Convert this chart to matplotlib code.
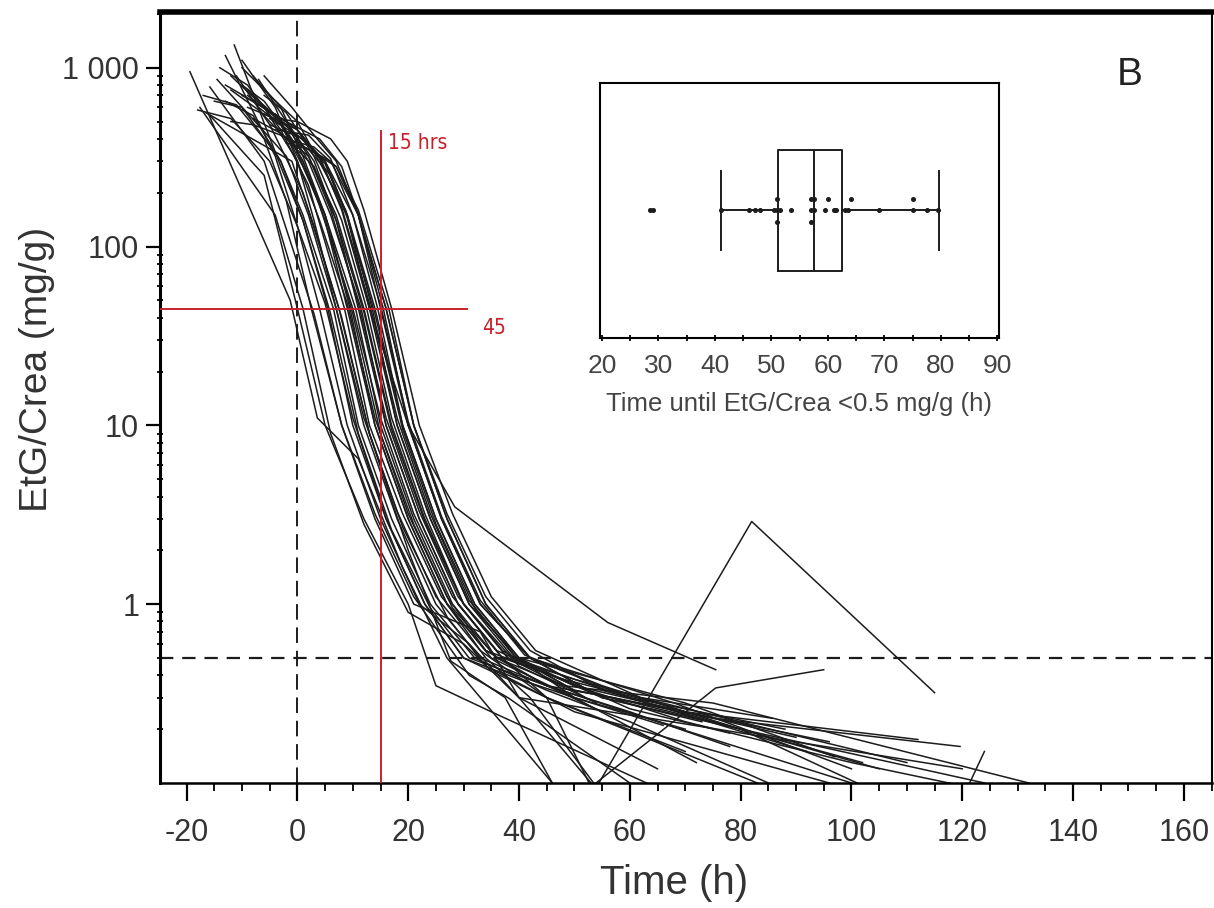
import matplotlib.pyplot as plt
from matplotlib.ticker import MultipleLocator, LogLocator, NullFormatter

plt.rcParams['font.family'] = ['Liberation Sans', 'DejaVu Sans']
plt.rcParams['axes.unicode_minus'] = False

# EtG/Crea (mg/g) over time (h), one list per subject
curve_times = [
    [-19.4, -1.3, 3.6, 11, 19, 27, 46],
    [-17.6, -4, 1, 6, 12, 20, 30, 40, 53],
    [-15.8, -6, 3, 8, 14, 21, 31, 38, 60],
    [-13, -4, 0, 5, 10, 16, 23, 30, 45, 83],
    [-11.4, -3, 1, 6, 11, 17, 24, 31, 45, 60, 78],
    [-14.5, -2, 2, 7, 12, 18, 25, 33, 45, 70],
    [-16.5, -1, 3, 8, 13, 19, 27, 34, 50, 96],
    [-12, -6, 0, 4, 9, 14, 20, 27, 34, 45, 65, 100],
    [-10, -4, 1, 5, 10, 15, 21, 28, 36, 50, 70, 112],
    [-7, -2, 2, 6, 11, 16, 22, 29, 37, 50, 75, 119.6],
    [-9, -4, 0, 8.7, 13, 20, 28.4, 56, 75.5],
    [-8, -2, 3, 7, 12, 17, 23, 30, 38, 50, 62, 85.7],
    [-6, 0, 4, 8, 13, 18, 24, 31, 39, 50, 72],
    [-5, 1, 5, 9, 14, 19, 25, 32, 40, 55, 80, 101],
    [-4, 2, 6, 10, 15, 20, 26, 33, 41, 55, 70, 96],
    [-13, -8, -2, 4, 8, 11, 16, 21, 27, 34, 42, 55],
    [-10, -5, 0, 6, 9, 12, 17, 22, 28, 35, 43, 62, 110],
    [-8, -3, 1, 5, 10.5, 15, 21, 28, 36, 45, 55],
    [-6, -2, 3, 8, 12.5, 17, 23, 30, 38, 48, 75, 132],
    [-9, -3, 1, 5, 9.5, 14, 20, 27, 34, 42, 54, 82, 115],
    [-7, -2, 2, 6, 11.5, 16, 22, 29, 37, 45, 53, 75.5, 95],
    [-5, 1, 5, 10, 14.5, 19, 25, 32, 40, 50, 70, 100, 121, 124],
    [-18, -12, -5, 0, 4, 9, 15, 22, 31, 40, 65],
    [-15, -10, -3, 1, 6.5, 11, 17, 24, 32, 45, 60, 85],
    [-12, -8, -3, 2, 7, 11, 16.5, 21, 27, 34, 42, 55, 80, 124],
    [-3, 2, 6, 9, 13.5, 18, 24, 31, 40, 70, 97],
    [-2, 3, 7, 11, 15.5, 20, 26, 33, 42, 68, 100],
    [-14, -9, -3, 2, 8.5, 13, 19, 26, 34, 48, 65, 80, 105],
    [-10, -6, -1, 4, 10, 15, 21, 28, 36, 50, 70, 90],
    [-8, -3, 2, 7, 12, 17, 23, 30, 40, 54],
    [-17, -11, -6, -2, 2.5, 8, 14, 21, 33, 40, 60, 120],
    [-16, -6, 0, 5, 12, 20, 25, 35, 63],
    [-11, -5, 1, 7.5, 13, 20, 27.7, 37.5, 46],
    [-9, -5, 0, 5, 9, 14, 19, 25, 32, 40, 52],
    [-7, -3, 1, 5, 9, 14, 20, 27, 35, 50, 70],
    [-12, -7, -2, 3, 7, 11, 16, 22, 29, 37, 48, 60, 78],
    [-4, 0, 4, 8, 13, 18, 24, 31, 39, 50, 60, 92],
    [-13, -8, -3, 1, 5.5, 10, 16, 23, 30, 40, 50, 66],
    [-6, -1, 3, 7, 11, 15, 20, 26, 33, 42, 60, 88],
    [-10, -4, 0, 3, 7, 12, 18, 25, 33, 45, 57, 80, 102],
    [-2, 2, 6, 11, 16, 21, 27, 34, 42, 55, 73],
]
curve_values = [
    [950, 50, 11, 6.5, 1.6, 0.5, 0.1],
    [600, 150, 45, 9, 2.8, 0.9, 0.6, 0.3, 0.1],
    [780, 300, 42, 10, 3.2, 1.1, 0.4, 0.3, 0.1],
    [1170, 320, 130, 48, 11, 3, 1, 0.5, 0.3, 0.1],
    [1340, 280, 140, 42, 9, 2.6, 0.95, 0.5, 0.35, 0.25, 0.16],
    [860, 320, 150, 45, 11, 3.3, 1.1, 0.55, 0.3, 0.15],
    [560, 300, 130, 40, 9, 2.7, 0.85, 0.45, 0.25, 0.1],
    [900, 600, 300, 140, 48, 11, 3.2, 1.1, 0.55, 0.35, 0.22, 0.1],
    [700, 550, 280, 150, 42, 9, 2.8, 0.95, 0.5, 0.33, 0.25, 0.175],
    [860, 500, 320, 160, 48, 11, 3.3, 1.1, 0.55, 0.33, 0.23, 0.16],
    [600, 520, 500, 160, 45, 10, 3.5, 0.79, 0.43],
    [650, 500, 300, 140, 43, 9.5, 2.9, 1, 0.5, 0.38, 0.3, 0.23],
    [550, 450, 310, 165, 48, 11, 3.2, 1.05, 0.52, 0.3, 0.13],
    [480, 400, 290, 145, 42, 9.5, 2.8, 0.95, 0.48, 0.3, 0.2, 0.1],
    [450, 420, 310, 150, 47, 10.5, 3.1, 1.05, 0.52, 0.35, 0.25, 0.17],
    [800, 650, 500, 400, 280, 150, 45, 10, 3, 1, 0.5, 0.3],
    [1000, 700, 500, 400, 300, 160, 45, 10, 3.2, 1.1, 0.55, 0.3, 0.13],
    [900, 600, 320, 150, 45, 10, 3, 1.0, 0.5, 0.35, 0.25],
    [700, 560, 320, 140, 45, 11, 3.2, 1.0, 0.5, 0.35, 0.28, 0.1],
    [750, 500, 300, 150, 45, 10, 3, 1, 0.5, 0.3, 0.095, 2.9, 0.32],
    [650, 480, 300, 150, 45, 10, 3, 1, 0.5, 0.3, 0.095, 0.34, 0.43],
    [520, 400, 300, 150, 45, 10, 3, 1, 0.5, 0.35, 0.22, 0.13, 0.095, 0.15],
    [580, 520, 300, 130, 45, 10, 3, 1, 0.6, 0.3, 0.12],
    [650, 600, 300, 150, 45, 10, 3, 1, 0.5, 0.33, 0.22, 0.1],
    [500, 480, 420, 350, 280, 160, 45, 10, 3.2, 1.1, 0.55, 0.33, 0.2, 0.1],
    [420, 350, 250, 150, 45, 10, 3, 1, 0.5, 0.28, 0.14],
    [400, 360, 280, 150, 45, 10, 3, 1, 0.5, 0.28, 0.12],
    [1000, 800, 450, 220, 45, 10, 3.2, 1.1, 0.55, 0.38, 0.28, 0.2, 0.12],
    [800, 650, 400, 170, 45, 11, 3.2, 1.1, 0.55, 0.35, 0.25, 0.18],
    [520, 430, 320, 150, 45, 10, 3, 1, 0.45, 0.28],
    [700, 620, 400, 180, 45, 10, 3, 1, 0.7, 0.3, 0.24, 0.12],
    [550, 250, 45, 10, 3, 1.0, 0.35, 0.25, 0.1],
    [900, 480, 200, 45, 9, 2.0, 0.48, 0.3, 0.1],
    [700, 560, 420, 300, 150, 45, 10, 3, 1, 0.5, 0.3],
    [600, 480, 300, 140, 45, 10, 3, 1, 0.5, 0.3, 0.2],
    [750, 580, 400, 280, 140, 45, 10, 3, 1, 0.5, 0.38, 0.26, 0.19],
    [550, 450, 320, 160, 45, 10, 3, 1, 0.5, 0.38, 0.3, 0.15],
    [650, 540, 300, 140, 45, 10, 3, 1, 0.5, 0.38, 0.3, 0.21],
    [900, 600, 420, 300, 150, 45, 10, 3, 1, 0.5, 0.3, 0.2],
    [1100, 600, 300, 140, 45, 10, 3, 1, 0.5, 0.35, 0.3, 0.2, 0.13],
    [380, 350, 300, 150, 45, 10, 3, 1, 0.5, 0.3, 0.22],
]

# inset: time until EtG/Crea < 0.5 mg/g (h)
cutoff_times = [28.5, 29, 41, 46, 47, 48, 50.5, 51, 51, 51, 51.5, 53.5,
                57, 57, 57, 57.5, 57.5, 59.5, 60, 61, 61.5, 63, 63.5, 64,
                69, 75, 75, 77.5, 79.5]
box_q1, box_med, box_q3 = 51.2, 57.6, 62.4
whisker_lo, whisker_hi = 41.0, 79.6

cutoff = 0.5
marker_time = 15
marker_value = 45

red = '#c8202a'
ink = '#1c1c1c'
grey = '#333333'

fig = plt.figure(figsize=(12.14, 9.08), dpi=100)
ax = fig.add_axes([0.1318, 0.1377, 0.8662, 0.8491])

for t, v in zip(curve_times, curve_values):
    ax.plot(t, v, color=ink, lw=1.1)

ax.set_yscale('log')
ax.set_xlim(-24.8, 165)
ax.set_ylim(0.1, 2050)

ax.axhline(cutoff, color=ink, lw=1.6, ls=(0, (6, 4)))
ax.axvline(0, color=ink, lw=1.4, ls=(0, (8, 4)))

# red guide lines
ax.vlines(marker_time, 0.1, 450, color=red, lw=1.4, zorder=5)
ax.hlines(marker_value, -24.8, 30.8, color=red, lw=1.4, zorder=5)
ax.text(marker_time + 1.4, 380, '15 hrs', color=red, fontsize=15,
        family='DejaVu Sans', fontstretch='condensed', va='center', ha='left')
ax.text(35.5, 35, '45', color=red, fontsize=15,
        family='DejaVu Sans', fontstretch='condensed', va='center', ha='center')

ax.text(0.922, 0.918, 'B', transform=ax.transAxes, fontsize=28,
        ha='center', va='center', color='#222222')

ax.set_xticks(range(-20, 161, 20))
ax.xaxis.set_minor_locator(MultipleLocator(5))
ax.set_yticks([1, 10, 100, 1000])
ax.set_yticklabels(['1', '10', '100', '1 000'])
ax.yaxis.set_minor_locator(LogLocator(base=10, subs=range(2, 10)))
ax.yaxis.set_minor_formatter(NullFormatter())
ax.tick_params(which='major', direction='out', width=1.6,
               labelsize=22, labelcolor=grey)
ax.tick_params(axis='x', which='major', length=13, pad=12)
ax.tick_params(axis='y', which='major', length=10, pad=5)
ax.tick_params(axis='x', which='minor', direction='out', length=6, width=1.3)
ax.tick_params(axis='y', which='minor', direction='inout', length=5, width=1.3)

ax.set_xlabel('Time (h)', fontsize=29, color=grey)
ax.set_ylabel('EtG/Crea (mg/g)', fontsize=28, color=grey)
ax.xaxis.set_label_coords(0.489, -0.105)
ax.yaxis.set_label_coords(-0.1, 0.536)

ax.spines['top'].set_linewidth(4)
ax.spines['left'].set_linewidth(2.2)
ax.spines['bottom'].set_linewidth(1.8)
ax.spines['right'].set_linewidth(1.5)

# inset box plot
ins = fig.add_axes([0.494, 0.628, 0.329, 0.2808])
stats = [{'q1': box_q1, 'med': box_med, 'q3': box_q3,
          'whislo': whisker_lo, 'whishi': whisker_hi, 'fliers': []}]
line_style = {'color': ink, 'lw': 1.4}
ins.bxp(stats, positions=[0.5], widths=0.475, orientation='horizontal',
        showfliers=False, capwidths=0.31, boxprops=line_style,
        whiskerprops=line_style, capprops=line_style,
        medianprops=line_style)

# stack repeated values vertically
seen = {}
dot_y = []
for v in cutoff_times:
    k = round(v)
    n = seen.get(k, 0)
    seen[k] = n + 1
    step = (n + 1) // 2 * 0.045
    dot_y.append(0.5 + (step if n % 2 else -step))
ins.plot(cutoff_times, dot_y, 'o', ms=2.6, color=ink, zorder=5)

ins.set_xlim(19.6, 90.3)
ins.set_ylim(0, 1)
ins.set_yticks([])
ins.set_xticks(range(20, 91, 10))
ins.xaxis.set_minor_locator(MultipleLocator(5))
ins.tick_params(which='both', direction='inout', length=4, width=1.3,
                labelsize=19, labelcolor='#444444', pad=10)
ins.set_xlabel('Time until EtG/Crea <0.5 mg/g (h)', fontsize=18.5,
               color='#444444', labelpad=10)
for s in ins.spines.values():
    s.set_linewidth(1.5)

fig.savefig('out.png', dpi=100)
